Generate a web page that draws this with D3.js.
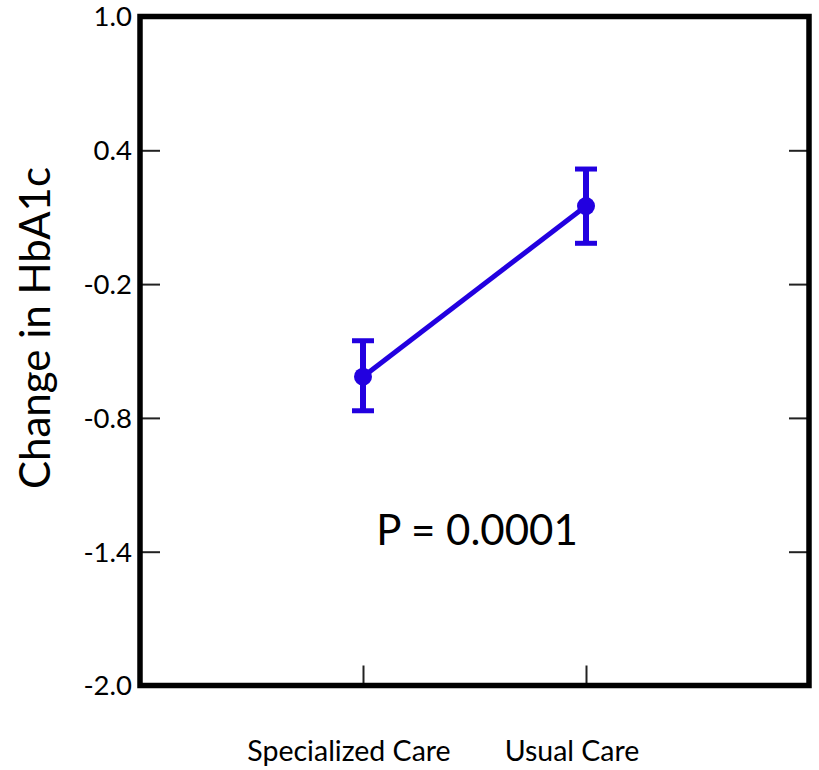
<!DOCTYPE html>
<html><head><meta charset="utf-8">
<script src="https://cdn.jsdelivr.net/npm/d3@7"></script>
<style>body{margin:0;background:#fff}svg{display:block}text{font-family:Lato,"Open Sans",sans-serif;fill:#000}</style>
</head><body><svg id="c" width="819" height="770"></svg>
<script>
const categories = ["Specialized Care", "Usual Care"];
const means = [-0.615, 0.150];
const upper = [-0.454, 0.316];
const lower = [-0.768, -0.017];
const yTicks = [1.0, 0.4, -0.2, -0.8, -1.4, -2.0];
const yLabel = "Change in HbA1c";
const pText = "P = 0.0001";

const svg = d3.select("#c");
const L = 140, R = 809, T = 16.5, B = 685.5;
const x = d3.scalePoint().domain(categories).range([L, R]).padding(1);
const y = d3.scaleLinear().domain([-2, 1]).range([B, T]);
const blue = "#2200e0";

// ticks inside
const tg = svg.append("g");
tg.append("g").attr("transform", `translate(${L},0)`)
  .call(d3.axisRight(y).tickValues(yTicks).tickSize(20).tickFormat(""))
  .call(g => g.select(".domain").remove())
  .selectAll("line").attr("stroke", "#222").attr("stroke-width", 2);
tg.append("g").attr("transform", `translate(${R},0)`)
  .call(d3.axisLeft(y).tickValues(yTicks).tickSize(20).tickFormat(""))
  .call(g => g.select(".domain").remove())
  .selectAll("line").attr("stroke", "#222").attr("stroke-width", 2);
tg.append("g").attr("transform", `translate(0,${B})`)
  .call(d3.axisTop(x).tickSize(20).tickFormat(""))
  .call(g => g.select(".domain").remove())
  .selectAll("line").attr("stroke", "#222").attr("stroke-width", 2);

// frame
svg.append("rect").attr("x", L).attr("y", T).attr("width", R - L).attr("height", B - T)
  .attr("fill", "none").attr("stroke", "#000").attr("stroke-width", 5.5);

// y tick labels
svg.append("g").selectAll("text").data(yTicks).join("text")
  .attr("x", L - 8).attr("y", d => y(d)).attr("dy", "0.36em")
  .attr("text-anchor", "end").attr("font-size", 27.5)
  .text(d => d.toFixed(1));

// category labels
svg.append("g").selectAll("text").data(categories).join("text")
  .attr("x", d => x(d) - 14).attr("y", 761)
  .attr("text-anchor", "middle").attr("font-size", 28.5)
  .text(d => d);

// y label
svg.append("text").attr("transform", `translate(50,328) rotate(-90)`)
  .attr("text-anchor", "middle").attr("font-size", 42).text(yLabel);

// p text
svg.append("text").attr("x", 477).attr("y", 545).attr("text-anchor", "middle")
  .attr("font-size", 42).text(pText);

// line
const pts = categories.map((c, i) => [x(c), y(means[i])]);
svg.append("path").attr("d", d3.line()(pts)).attr("fill", "none")
  .attr("stroke", blue).attr("stroke-width", 5);

// error bars
const eb = svg.append("g").selectAll("g").data(categories).join("g");
eb.append("line").attr("x1", d => x(d)).attr("x2", d => x(d))
  .attr("y1", (d, i) => y(upper[i])).attr("y2", (d, i) => y(lower[i]))
  .attr("stroke", blue).attr("stroke-width", 6);
eb.each(function (d, i) {
  const g = d3.select(this);
  [upper[i], lower[i]].forEach(v => {
    g.append("line").attr("x1", x(d) - 11).attr("x2", x(d) + 11)
      .attr("y1", y(v)).attr("y2", y(v)).attr("stroke", blue).attr("stroke-width", 5);
  });
});
eb.append("circle").attr("cx", d => x(d)).attr("cy", (d, i) => y(means[i]))
  .attr("r", 9).attr("fill", blue);
</script></body></html>
